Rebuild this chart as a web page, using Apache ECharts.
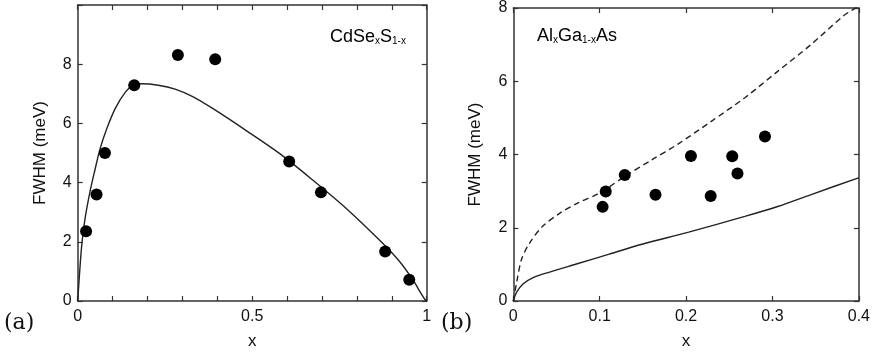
<!DOCTYPE html>
<html>
<head>
<meta charset="utf-8">
<script src="https://cdn.jsdelivr.net/npm/echarts@6/dist/echarts.min.js"></script>
<style>html,body{margin:0;padding:0;background:#fff;}#c{width:873px;height:355px;}</style>
</head>
<body>
<div id="c"></div>
<script>
// Panel (a): CdSe_xS_1-x
const pointsA_x = [0.024, 0.054, 0.078, 0.162, 0.287, 0.394, 0.606, 0.697, 0.881, 0.950];
const pointsA_y = [2.36, 3.60, 5.00, 7.29, 8.31, 8.17, 4.71, 3.67, 1.67, 0.72];
const curveA_x = [0, 0.0115, 0.021, 0.035, 0.050, 0.064, 0.083, 0.107, 0.136, 0.159, 0.183, 0.231, 0.279, 0.331, 0.389, 0.484, 0.580, 0.675, 0.771, 0.866, 0.924, 0.962, 0.976, 0.995, 1.0];
const curveA_y = [0, 1.88, 2.78, 3.68, 4.46, 5.14, 5.81, 6.49, 7.05, 7.30, 7.34, 7.29, 7.16, 6.90, 6.49, 5.75, 4.97, 4.07, 3.11, 2.04, 1.31, 0.69, 0.41, 0.05, 0];
const xTicksA = [0, 0.5, 1];

// Panel (b): Al_xGa_1-xAs
const pointsB_x = [0.1034, 0.107, 0.129, 0.1646, 0.2056, 0.2285, 0.2534, 0.2595, 0.2913];
const pointsB_y = [2.57, 2.99, 3.44, 2.90, 3.96, 2.87, 3.95, 3.48, 4.49];
const dashedB_x = [0, 0.0039, 0.0096, 0.019, 0.034, 0.054, 0.075, 0.100, 0.129, 0.160, 0.191, 0.230, 0.268, 0.306, 0.344, 0.383, 0.400];
const dashedB_y = [0, 0.51, 1.14, 1.59, 2.04, 2.40, 2.68, 2.95, 3.40, 3.85, 4.29, 4.92, 5.55, 6.27, 6.99, 7.80, 8.05];
const solidB_x = [0, 0.0039, 0.0115, 0.023, 0.042, 0.073, 0.111, 0.149, 0.203, 0.268, 0.306, 0.344, 0.398, 0.400];
const solidB_y = [0, 0.24, 0.47, 0.64, 0.79, 1.01, 1.28, 1.55, 1.88, 2.31, 2.58, 2.90, 3.35, 3.36];

const yLabel = 'FWHM (meV)';
const xLabel = 'x';

function zip(a, b) { return a.map((v, i) => [v, b[i]]); }

const FONT = '"Liberation Sans", Arial, sans-serif';
const AX = '#333';
const lineCol = '#222';

function baseX(grid, min, max, interval, fmt, pos) {
  const main = pos === 'bottom';
  return {
    type: 'value', gridIndex: grid, position: pos, min: min, max: max, interval: interval,
    name: main ? xLabel : '', nameLocation: 'middle', nameGap: 32,
    nameTextStyle: {fontFamily: FONT, fontSize: 17, color: '#111'},
    axisLine: {show: true, onZero: false, lineStyle: {color: AX, width: 1.5}},
    axisTick: {show: true, inside: true, length: 5, lineStyle: {color: AX, width: 1.2}},
    axisLabel: {show: main, fontFamily: FONT, fontSize: 16, color: '#111', margin: 8, formatter: fmt},
    splitLine: {show: false}
  };
}
function baseY(grid, min, max, interval, fmt, pos) {
  const main = pos === 'left';
  return {
    type: 'value', gridIndex: grid, position: pos, min: min, max: max, interval: interval,
    name: main ? yLabel : '', nameLocation: 'middle', nameGap: 29,
    nameTextStyle: {fontFamily: FONT, fontSize: 17, color: '#111'},
    axisLine: {show: true, onZero: false, lineStyle: {color: AX, width: 1.5}},
    axisTick: {show: true, inside: true, length: 5, lineStyle: {color: AX, width: 1.2}},
    axisLabel: {show: main, fontFamily: FONT, fontSize: 16, color: '#111', margin: 6, formatter: fmt},
    splitLine: {show: false}
  };
}

const fmtXA = v => {
  const r = Math.round(v * 10) / 10;
  return xTicksA.some(t => Math.abs(t - r) < 1e-6) ? String(r) : '';
};
const fmtYA = v => (v >= 10 ? '' : String(Math.round(v)));
const fmtXB = v => { const r = Math.round(v * 10) / 10; return r === 0 ? '0' : r.toFixed(1); };
const fmtYB = v => String(Math.round(v));

const chart = echarts.init(document.getElementById('c'), null, {renderer: 'canvas'});
const rich = {
  n: {fontFamily: FONT, fontSize: 18, lineHeight: 22, color: '#111', verticalAlign: 'bottom'},
  s: {fontFamily: FONT, fontSize: 10, lineHeight: 12, color: '#111', verticalAlign: 'bottom'}
};
chart.setOption({
  animation: false,
  backgroundColor: '#fff',
  grid: [
    {left: 77.7, top: 5, width: 349, height: 297.3},
    {left: 513.3, top: 6, width: 348.4, height: 296.3}
  ],
  xAxis: [
    baseX(0, 0, 1, 0.1, fmtXA, 'bottom'),
    baseX(0, 0, 1, 0.1, fmtXA, 'top'),
    baseX(1, 0, 0.4, 0.1, fmtXB, 'bottom'),
    baseX(1, 0, 0.4, 0.1, fmtXB, 'top')
  ],
  yAxis: [
    baseY(0, 0, 10, 2, fmtYA, 'left'),
    baseY(0, 0, 10, 2, fmtYA, 'right'),
    baseY(1, 0, 8, 2, fmtYB, 'left'),
    baseY(1, 0, 8, 2, fmtYB, 'right')
  ],
  series: [
    {type: 'line', xAxisIndex: 0, yAxisIndex: 0, data: zip(curveA_x, curveA_y), showSymbol: false, smooth: 0.3,
      lineStyle: {color: lineCol, width: 1.4}, z: 2},
    {type: 'scatter', xAxisIndex: 0, yAxisIndex: 0, data: zip(pointsA_x, pointsA_y), symbol: 'circle', symbolSize: 12,
      itemStyle: {color: '#000', opacity: 1}, z: 3},
    {type: 'line', xAxisIndex: 2, yAxisIndex: 2, data: zip(dashedB_x, dashedB_y), showSymbol: false, smooth: 0.3,
      lineStyle: {color: lineCol, width: 1.4, type: [6, 4]}, z: 2},
    {type: 'line', xAxisIndex: 2, yAxisIndex: 2, data: zip(solidB_x, solidB_y), showSymbol: false, smooth: 0.3,
      lineStyle: {color: lineCol, width: 1.4}, z: 2},
    {type: 'scatter', xAxisIndex: 2, yAxisIndex: 2, data: zip(pointsB_x, pointsB_y), symbol: 'circle', symbolSize: 12,
      itemStyle: {color: '#000', opacity: 1}, z: 3}
  ],
  graphic: [
    {type: 'text', left: 330, top: 28, style: {text: '{n|CdSe}{s|x}{n|S}{s|1-x}', rich: rich}},
    {type: 'text', left: 537, top: 27, style: {text: '{n|Al}{s|x}{n|Ga}{s|1-x}{n|As}', rich: rich}},
    {type: 'text', left: 4, top: 312, style: {text: '(a)', fontFamily: '"DejaVu Serif", "Liberation Serif", serif', fontSize: 22, fill: '#111'}},
    {type: 'text', left: 441, top: 312, style: {text: '(b)', fontFamily: '"DejaVu Serif", "Liberation Serif", serif', fontSize: 22, fill: '#111'}}
  ]
});
</script>
</body>
</html>
